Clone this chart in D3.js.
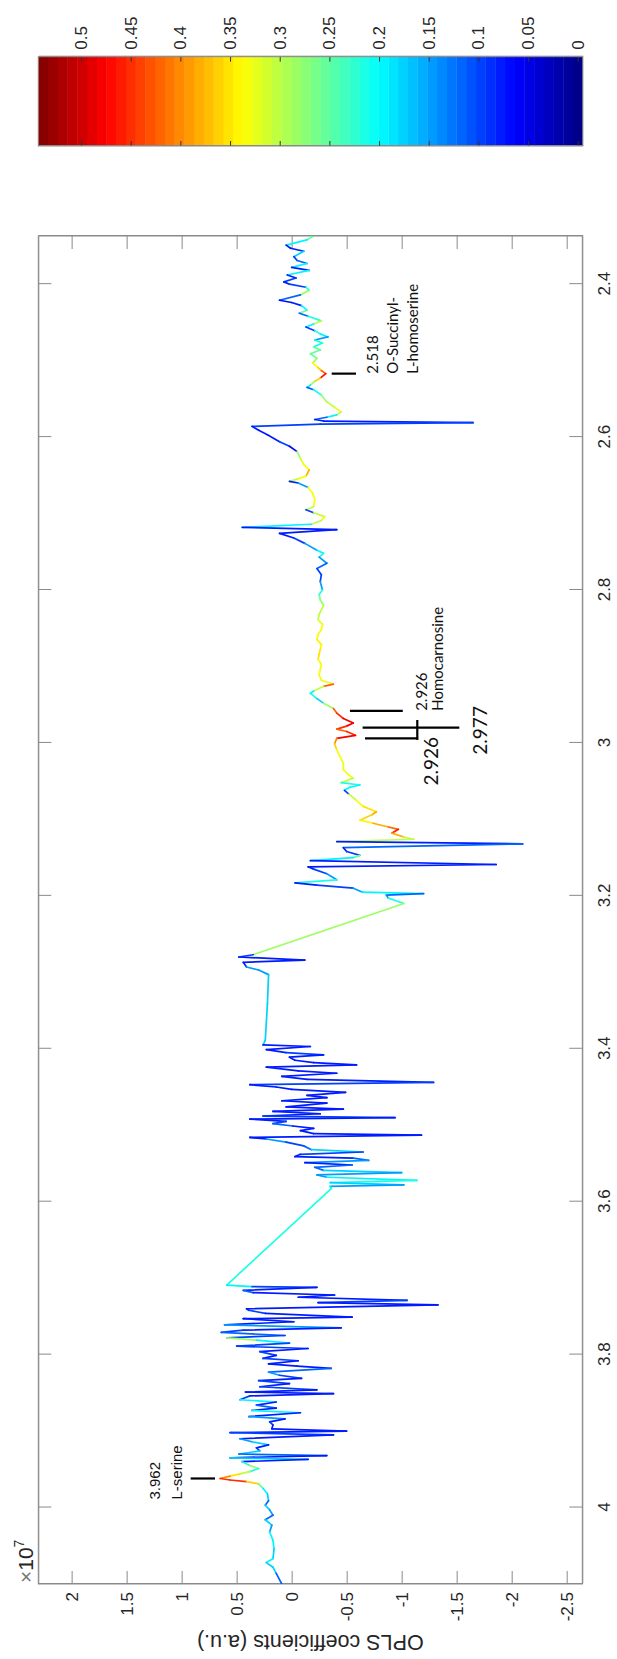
<!DOCTYPE html>
<html><head><meta charset="utf-8">
<script src="https://cdn.jsdelivr.net/npm/d3@7/dist/d3.min.js"></script>
<style>body{margin:0;background:#fff}svg{display:block}</style>
</head><body>
<svg id="chart" width="617" height="1659"></svg>
<script>
// ---------- DATA (chemical shift ppm, OPLS coefficient x1e7, correlation value) ----------
const ppm1 = [2.337,2.342,2.349,2.353,2.357,2.364,2.369,2.373,2.378,2.382,2.388,2.392,2.397,2.400,2.404,2.408,2.414,2.421,2.424,2.428,2.434,2.438,2.442,2.448,2.452,2.456,2.461,2.465,2.469,2.473,2.477,2.482,2.486,2.491,2.497,2.503,2.509,2.513,2.517,2.523,2.527,2.532,2.535,2.538,2.545,2.554,2.561,2.567,2.571,2.574,2.577,2.579,2.581,2.583,2.586,2.591,2.597,2.606,2.612,2.619,2.628,2.636,2.643,2.651,2.655,2.658,2.660,2.666,2.673,2.682];
const coef1 = [-0.20,-0.14,0.05,0.01,-0.11,-0.02,-0.05,-0.14,0.00,-0.16,0.04,-0.04,0.07,0.02,-0.13,-0.16,-0.08,0.11,0.00,-0.09,-0.14,-0.07,-0.15,-0.27,-0.20,-0.13,-0.21,-0.26,-0.33,-0.21,-0.28,-0.20,-0.26,-0.17,-0.23,-0.19,-0.24,-0.27,-0.31,-0.26,-0.21,-0.17,-0.14,-0.20,-0.27,-0.32,-0.39,-0.45,-0.41,-0.32,-0.21,-0.29,-1.65,-0.26,0.36,0.30,0.22,0.11,0.02,-0.05,-0.08,-0.11,-0.16,-0.13,-0.05,0.02,-0.06,-0.15,-0.19,-0.21];
const corr1 = [0.25,0.20,0.08,0.08,0.18,0.10,0.12,0.20,0.08,0.20,0.08,0.10,0.08,0.10,0.22,0.28,0.12,0.07,0.08,0.20,0.25,0.12,0.22,0.30,0.20,0.10,0.22,0.20,0.15,0.22,0.22,0.25,0.25,0.25,0.28,0.33,0.36,0.42,0.47,0.36,0.28,0.20,0.12,0.22,0.28,0.30,0.32,0.30,0.20,0.12,0.08,0.08,0.10,0.10,0.08,0.08,0.08,0.10,0.07,0.28,0.32,0.33,0.38,0.33,0.30,0.08,0.15,0.33,0.33,0.33];

const ppm2 = [2.691,2.695,2.699,2.704,2.709,2.714,2.718,2.721,2.726,2.732,2.739,2.748,2.752,2.757,2.765,2.772,2.780,2.789,2.800,2.806,2.813,2.820,2.826,2.832,2.839,2.845,2.852,2.858,2.865,2.871,2.878,2.884,2.891,2.897,2.904,2.911,2.918,2.923,2.926,2.932,2.935,2.942,2.948,2.955,2.961,2.968,2.974,2.978,2.982,2.985,2.990,2.994,3.001,3.009,3.018,3.027,3.035];
const coef2 = [-0.20,-0.13,-0.20,-0.30,-0.27,-0.18,0.45,-0.41,0.11,-0.02,-0.12,-0.23,-0.29,-0.25,-0.32,-0.23,-0.27,-0.26,-0.28,-0.25,-0.26,-0.29,-0.27,-0.25,-0.24,-0.28,-0.27,-0.24,-0.23,-0.27,-0.26,-0.25,-0.24,-0.27,-0.26,-0.25,-0.27,-0.38,-0.29,-0.20,-0.17,-0.23,-0.29,-0.38,-0.41,-0.47,-0.56,-0.50,-0.41,-0.50,-0.58,-0.41,-0.39,-0.41,-0.44,-0.47,-0.47];
const corr2 = [0.30,0.10,0.30,0.33,0.30,0.20,0.08,0.08,0.08,0.10,0.15,0.20,0.22,0.15,0.12,0.10,0.10,0.15,0.22,0.25,0.28,0.30,0.30,0.30,0.32,0.33,0.33,0.33,0.34,0.34,0.35,0.35,0.33,0.33,0.33,0.33,0.32,0.42,0.30,0.20,0.22,0.18,0.28,0.42,0.45,0.48,0.48,0.45,0.42,0.45,0.48,0.40,0.36,0.33,0.33,0.32,0.33];

const ppm3 = [3.042,3.046,3.052,3.055,3.058,3.062,3.067,3.074,3.083,3.090,3.094,3.101,3.105,3.110,3.113,3.118,3.123,3.126,3.129,3.132,3.137,3.142,3.147,3.150,3.154,3.159,3.162,3.165,3.171,3.179,3.183,3.186,3.190,3.195,3.197,3.199,3.203,3.210,3.277,3.280,3.284,3.287,3.293,3.297,3.303,3.341,3.389];
const coef3 = [-0.52,-0.56,-0.45,-0.62,-0.53,-0.48,-0.52,-0.58,-0.65,-0.77,-0.73,-0.62,-0.74,-0.88,-0.97,-0.91,-1.02,-1.11,-0.41,-2.10,-0.47,-0.50,-0.62,-0.56,-0.17,-1.86,-0.15,-0.20,-0.32,-0.41,-0.03,-0.23,-0.56,-0.64,-1.20,-0.86,-0.88,-1.02,0.35,0.48,-0.12,0.44,0.41,0.30,0.21,0.22,0.24];
const corr3 = [0.33,0.30,0.22,0.20,0.20,0.10,0.30,0.33,0.35,0.38,0.36,0.34,0.38,0.42,0.46,0.38,0.30,0.30,0.08,0.12,0.08,0.10,0.25,0.20,0.08,0.08,0.08,0.10,0.15,0.22,0.08,0.10,0.15,0.20,0.12,0.15,0.22,0.28,0.10,0.08,0.08,0.08,0.15,0.15,0.18,0.18,0.18];

const ppm4 = [3.395,3.397,3.401,3.405,3.408,3.411,3.415,3.418,3.421,3.424,3.429,3.432,3.436,3.440,3.444,3.447,3.450,3.453,3.457,3.461,3.464,3.468,3.471,3.476,3.479,3.482,3.485,3.488,3.490,3.492,3.495,3.498,3.501,3.504,3.507,3.511,3.513,3.516,3.518,3.522,3.527,3.532,3.535,3.538,3.541,3.543,3.546,3.549,3.552,3.555,3.559,3.562,3.565,3.568,3.572,3.575,3.578,3.580,3.583,3.709,3.711,3.712,3.716,3.719,3.722,3.725,3.729,3.732,3.735,3.740];
const coef4 = [0.26,-0.17,0.23,0.05,-0.29,0.02,-0.03,-0.20,-0.59,0.23,-0.06,-0.41,0.09,-0.14,-1.29,0.38,0.14,0.00,-0.49,-0.14,-0.32,0.09,-0.32,0.05,-0.47,0.17,-0.26,0.26,-0.94,0.38,0.05,0.17,-0.01,-0.20,-0.08,-0.20,-1.18,0.38,0.23,0.05,-0.11,-0.18,-0.65,-0.08,-0.03,-0.56,-0.70,-0.12,-0.55,-0.21,-0.29,-1.00,-0.23,-0.32,-1.14,-0.35,-1.02,-0.35,-0.36,0.59,0.36,-0.23,0.44,0.35,-0.39,-0.06,-1.05,-0.24,-1.33,0.41];
const corr4 = [0.08,0.08,0.08,0.10,0.08,0.08,0.08,0.08,0.08,0.08,0.08,0.08,0.08,0.08,0.10,0.08,0.08,0.08,0.08,0.08,0.08,0.08,0.08,0.08,0.08,0.08,0.08,0.10,0.08,0.08,0.10,0.12,0.08,0.08,0.08,0.08,0.08,0.08,0.15,0.10,0.12,0.18,0.10,0.08,0.08,0.12,0.15,0.08,0.12,0.12,0.18,0.15,0.15,0.20,0.22,0.18,0.15,0.20,0.22,0.20,0.10,0.08,0.12,0.08,0.08,0.08,0.10,0.08,0.08,0.08];

const ppm5 = [3.742,3.746,3.751,3.753,3.757,3.761,3.765,3.768,3.771,3.775,3.778,3.781,3.785,3.789,3.792,3.796,3.801,3.805,3.808,3.812,3.815,3.818,3.823,3.827,3.831,3.834,3.838,3.842,3.846,3.849,3.851,3.854,3.859,3.862,3.866,3.870,3.873,3.876,3.881,3.884,3.888,3.892,3.897,3.900,3.902,3.905,3.910,3.914,3.918,3.922,3.926,3.930,3.932,3.935,3.937,3.940,3.945,3.949,3.953,3.956,3.959,3.962,3.964,3.966,3.969,3.975,3.982,3.991,3.997,4.003,4.010,4.016,4.023,4.032,4.043,4.054,4.067,4.072,4.078,4.086,4.100];
const coef5 = [0.39,0.24,-0.55,0.44,-0.02,0.61,-0.45,0.44,0.64,0.06,0.59,0.32,0.02,0.50,-0.15,0.29,0.14,0.26,-0.06,0.21,-0.05,-0.36,0.21,0.11,-0.09,0.30,0.02,0.29,-0.23,0.42,-0.38,0.38,0.47,0.14,0.32,0.14,0.36,-0.08,0.39,0.06,0.20,0.17,0.18,-0.50,0.56,-0.38,0.47,0.36,0.21,0.32,0.29,0.48,-0.32,0.56,-0.15,0.45,0.38,0.30,0.38,0.47,0.56,0.65,0.56,0.41,0.30,0.26,0.22,0.21,0.24,0.20,0.17,0.24,0.18,0.20,0.17,0.16,0.17,0.23,0.17,0.14,0.09];
const corr5 = [0.10,0.08,0.08,0.08,0.08,0.15,0.08,0.10,0.12,0.10,0.28,0.20,0.10,0.10,0.08,0.10,0.08,0.10,0.08,0.08,0.08,0.12,0.15,0.10,0.08,0.10,0.08,0.10,0.08,0.08,0.08,0.10,0.20,0.08,0.12,0.08,0.20,0.08,0.15,0.08,0.10,0.08,0.08,0.08,0.10,0.08,0.15,0.18,0.08,0.10,0.18,0.12,0.08,0.18,0.08,0.22,0.28,0.22,0.30,0.35,0.40,0.45,0.45,0.36,0.25,0.20,0.18,0.12,0.18,0.15,0.12,0.18,0.15,0.20,0.20,0.18,0.20,0.18,0.18,0.12,0.10];

// axis ticks
const ppmTicks = [2.4,2.6,2.8,3,3.2,3.4,3.6,3.8,4];
const coefTicks = [-2.5,-2,-1.5,-1,-0.5,0,0.5,1,1.5,2];
const cbTicks = [0,0.05,0.1,0.15,0.2,0.25,0.3,0.35,0.4,0.45,0.5];
const ppmDomain = [4.1,2.337];
const coefDomain = [2.303,-2.642];
const cbDomain = [-0.005,0.543];

// annotation markers (ppm, coefficient from, coefficient to)
const markPpm  = [3.962, 2.517, 2.958, 2.980, 2.994];
const markFrom = [0.697, -0.364, -0.53, -0.645, -0.667];
const markTo   = [0.918, -0.585, -1.01, -1.524, -1.15];
const bracketPpm = [2.970, 2.996];
const bracketCoef = -1.142;
const serineLabels = ['3.962','L-serine'];
const osLabels = ['2.518','O-Succinyl-','L-homoserine'];
const homoLabels = ['2.926','Homocarnosine'];
const bigLabels = ['2.926','2.977'];

// ---------- BUILD ----------
const ppm = [].concat(ppm1,ppm2,ppm3,ppm4,ppm5);
const coef = [].concat(coef1,coef2,coef3,coef4,coef5);
const corr = [].concat(corr1,corr2,corr3,corr4,corr5);
if (ppm.length!==coef.length || ppm.length!==corr.length) console.error('length mismatch', ppm.length, coef.length, corr.length);

const W = 1659, H = 617;   // landscape frame, rotated into the portrait page
const svg = d3.select('#chart');
const root = svg.append('g').attr('transform', `translate(0,${W}) rotate(-90)`);

const L = 75, R = 1423, T = 38.3, B = 582.3;
const x = d3.scaleLinear().domain(ppmDomain).range([L, R]);
const y = d3.scaleLinear().domain(coefDomain).range([T, B]);

const axisColor = '#8a8a8a', textColor = '#262626';
const FONT = '"Liberation Sans", Arial, Helvetica, sans-serif';
const NOTE_FONT = 'Lato, "Open Sans", sans-serif';

// jet colormap
const clamp = v => Math.max(0, Math.min(1, v));
function jet(t){
  return d3.rgb(255*clamp(1.5-Math.abs(4*t-3)), 255*clamp(1.5-Math.abs(4*t-2)), 255*clamp(1.5-Math.abs(4*t-1)));
}
const NB = 56;
const tScale = d3.scaleLinear().domain(cbDomain).range([0,1]).clamp(true);
function colorOf(v){
  let i = Math.floor(tScale(v)*NB); if (i>=NB) i=NB-1; if (i<0) i=0;
  return jet((i+0.5)/NB).toString();
}

// clip
root.append('clipPath').attr('id','plotclip').append('rect')
  .attr('x',L).attr('y',T).attr('width',R-L).attr('height',B-T);

// axes (ticks inward, mirrored)
function styleAxis(sel){
  sel.attr('font-family',FONT).attr('font-size',17);
  sel.selectAll('.domain').attr('stroke',axisColor);
  sel.selectAll('.tick line').attr('stroke',axisColor);
  sel.selectAll('.tick text').attr('fill',textColor);
}
root.append('g').attr('transform',`translate(0,${B})`)
  .call(d3.axisBottom(x).tickValues(ppmTicks).tickSizeInner(-13).tickSizeOuter(0).tickPadding(16).tickFormat(d=>String(d)))
  .call(styleAxis);
root.append('g').attr('transform',`translate(0,${T})`)
  .call(d3.axisTop(x).tickValues(ppmTicks).tickSizeInner(-13).tickSizeOuter(0).tickFormat(''))
  .call(styleAxis);
root.append('g').attr('transform',`translate(${L},0)`)
  .call(d3.axisLeft(y).tickValues(coefTicks).tickSizeInner(-13).tickSizeOuter(0).tickPadding(8).tickFormat(d=>String(d)))
  .call(styleAxis);
root.append('g').attr('transform',`translate(${R},0)`)
  .call(d3.axisRight(y).tickValues(coefTicks).tickSizeInner(-13).tickSizeOuter(0).tickFormat(''))
  .call(styleAxis);
root.append('rect').attr('x',L).attr('y',T).attr('width',R-L).attr('height',B-T)
  .attr('fill','none').attr('stroke',axisColor).attr('stroke-width',1);

// exponent label
const ex = root.append('text').attr('x',L+1).attr('y',T-5)
  .attr('font-family',FONT).attr('font-size',21).attr('fill',textColor);
ex.append('tspan').attr('fill','#777').text('\u00d7');
ex.append('tspan').text('10');
ex.append('tspan').attr('font-size',14).attr('dy',-9).text('7');

// y label
root.append('text').attr('transform',`translate(24,${(T+B)/2}) rotate(-90)`)
  .attr('text-anchor','middle').attr('font-family',FONT).attr('font-size',21.5)
  .attr('fill',textColor).text('OPLS coefficients (a.u.)');

// coloured trace
const pts = ppm.map((p,i)=>({p, c:coef[i], r:corr[i]}));
root.append('g').attr('clip-path','url(#plotclip)')
  .selectAll('line').data(d3.pairs(pts)).join('line')
  .attr('x1',d=>x(d[0].p)).attr('y1',d=>y(d[0].c))
  .attr('x2',d=>x(d[1].p)).attr('y2',d=>y(d[1].c))
  .attr('stroke',d=>colorOf(d[0].r))
  .attr('stroke-width',1.7).attr('stroke-linecap','round');

// annotation markers
const ann = root.append('g');
ann.selectAll('line.mk').data(markPpm).join('line').attr('class','mk')
  .attr('x1',d=>x(d)).attr('x2',d=>x(d))
  .attr('y1',(d,i)=>y(markFrom[i])).attr('y2',(d,i)=>y(markTo[i]))
  .attr('stroke','#000').attr('stroke-width',2.2);
ann.append('line')
  .attr('x1',x(bracketPpm[0])).attr('x2',x(bracketPpm[1]))
  .attr('y1',y(bracketCoef)).attr('y2',y(bracketCoef))
  .attr('stroke','#000').attr('stroke-width',2.2);

// annotation labels
const serX = x(markPpm[0]) - 21, serTop = y(markTo[0]);
ann.selectAll('text.ser').data(serineLabels).join('text').attr('class','ser')
  .attr('x',serX).attr('y',(d,i)=>serTop - 31 + i*22)
  .attr('font-family',FONT).attr('font-size',15).attr('fill','#111').text(d=>d);

const osX = x(markPpm[1]), osBot = y(markTo[1]);
ann.selectAll('text.os').data(osLabels).join('text').attr('class','os')
  .attr('x',osX).attr('y',(d,i)=>osBot + 22 + i*20)
  .attr('font-family',NOTE_FONT).attr('font-size',15).attr('fill','#111').text(d=>d);

const hX = x(markPpm[2]), hBot = y(markTo[2]);
ann.selectAll('text.hc').data(homoLabels).join('text').attr('class','hc')
  .attr('x',hX).attr('y',(d,i)=>hBot + 24 + i*16.5)
  .attr('font-family',NOTE_FONT).attr('font-size',15).attr('fill','#111').text(d=>d);

ann.append('text').attr('x',x(markPpm[4]) + 1.5).attr('y',y(markTo[4]) + 20)
  .attr('text-anchor','end').attr('font-family',NOTE_FONT).attr('font-size',19).attr('fill','#111').text(bigLabels[0]);
ann.append('text').attr('x',x(markPpm[3]) - 27).attr('y',y(markTo[3]) + 27.5)
  .attr('font-family',NOTE_FONT).attr('font-size',19).attr('fill','#111').text(bigLabels[1]);

// colorbar
const CB0 = 1513, CB1 = 1602.3;
const cb = d3.scaleLinear().domain(cbDomain).range([582.7, 38.3]);
const step = (cbDomain[1]-cbDomain[0])/NB;
const bands = d3.range(NB);
const cbg = root.append('g');
cbg.selectAll('rect').data(bands).join('rect')
  .attr('x',CB0).attr('width',CB1-CB0)
  .attr('y',i=>cb(cbDomain[0]+(i+1)*step))
  .attr('height',i=>cb(cbDomain[0]+i*step)-cb(cbDomain[0]+(i+1)*step)+0.4)
  .attr('fill',i=>jet((i+0.5)/NB).toString());
cbg.append('g').attr('transform',`translate(${CB1},0)`)
  .call(d3.axisRight(cb).tickValues(cbTicks).tickSizeInner(-5).tickSizeOuter(0).tickPadding(7).tickFormat(d=>String(d)))
  .call(styleAxis);
cbg.append('g').attr('transform',`translate(${CB0},0)`)
  .call(d3.axisLeft(cb).tickValues(cbTicks).tickSizeInner(-5).tickSizeOuter(0).tickFormat(''))
  .call(styleAxis);
cbg.selectAll('.tick line').attr('stroke','#333');
cbg.append('rect').attr('x',CB0).attr('y',38.3).attr('width',CB1-CB0).attr('height',582.7-38.3)
  .attr('fill','none').attr('stroke',axisColor);
</script>
</body></html>
